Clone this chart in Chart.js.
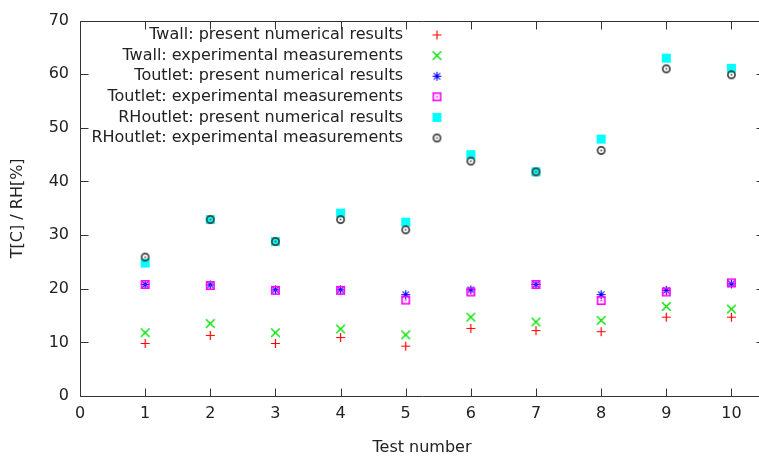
<!DOCTYPE html>
<html>
<head>
<meta charset="utf-8">
<title>Test results</title>
<script src="https://cdn.jsdelivr.net/npm/chart.js@4/dist/chart.umd.min.js"></script>
<style>
  html, body { margin: 0; padding: 0; overflow: hidden; background: #fff; }
  #marco { width: 759px; height: 462px; overflow: hidden; position: relative; }
  #grafico { position: absolute; left: 0; top: 0; }
</style>
</head>
<body>
<div id="marco">
  <canvas id="grafico" width="770" height="462"></canvas>
</div>
<script>
// Test numbers and measured / computed values
const tests = [1, 2, 3, 4, 5, 6, 7, 8, 9, 10];
const twallNum = [9.8, 11.3, 9.8, 10.9, 9.3, 12.6, 12.2, 12.0, 14.7, 14.7];
const twallExp = [11.8, 13.5, 11.8, 12.5, 11.4, 14.7, 13.8, 14.1, 16.7, 16.2];
const toutNum = [20.8, 20.7, 19.8, 19.8, 18.9, 19.8, 20.8, 18.9, 19.7, 20.9];
const toutExp = [20.8, 20.6, 19.7, 19.7, 17.9, 19.4, 20.8, 17.8, 19.4, 21.1];
const rhNum = [24.8, 32.9, 28.8, 34.1, 32.4, 45.0, 41.8, 47.9, 63.0, 61.1];
const rhExp = [25.9, 32.9, 28.8, 32.9, 31.0, 43.8, 41.8, 45.8, 61.0, 59.9];

const xTicks = [0, 1, 2, 3, 4, 5, 6, 7, 8, 9, 10];
const yTicks = [0, 10, 20, 30, 40, 50, 60, 70];

const FONT = "'DejaVu Sans', sans-serif";

// small canvases used as point markers
function marker(draw) {
    const c = document.createElement('canvas');
    c.width = 11;
    c.height = 11;
    draw(c.getContext('2d'));
    return c;
}

const plusMark = marker(function(ctx) {
    ctx.strokeStyle = '#ff0000';
    ctx.lineWidth = 1.2;
    ctx.beginPath();
    ctx.moveTo(1, 5.5); ctx.lineTo(10, 5.5);
    ctx.moveTo(5.5, 1); ctx.lineTo(5.5, 10);
    ctx.stroke();
});

const crossMark = marker(function(ctx) {
    ctx.strokeStyle = '#00e000';
    ctx.lineWidth = 1.4;
    ctx.beginPath();
    ctx.moveTo(1.2, 1.2); ctx.lineTo(9.8, 9.8);
    ctx.moveTo(9.8, 1.2); ctx.lineTo(1.2, 9.8);
    ctx.stroke();
});

const starMark = marker(function(ctx) {
    ctx.strokeStyle = '#0000ff';
    ctx.lineWidth = 1.1;
    ctx.beginPath();
    ctx.moveTo(1, 5.5); ctx.lineTo(10, 5.5);
    ctx.moveTo(5.5, 1); ctx.lineTo(5.5, 10);
    ctx.moveTo(2.3, 2.3); ctx.lineTo(8.7, 8.7);
    ctx.moveTo(8.7, 2.3); ctx.lineTo(2.3, 8.7);
    ctx.stroke();
});

const boxMark = marker(function(ctx) {
    ctx.strokeStyle = '#ff00ff';
    ctx.lineWidth = 1.6;
    ctx.strokeRect(1.8, 1.8, 7.4, 7.4);
    ctx.fillStyle = '#ff00ff';
    ctx.fillRect(4.7, 4.7, 1.6, 1.6);
});

const squareMark = marker(function(ctx) {
    ctx.fillStyle = '#00ffff';
    ctx.fillRect(1, 1, 9, 9);
});

const circleMark = marker(function(ctx) {
    ctx.strokeStyle = '#404040';
    ctx.lineWidth = 1.7;
    ctx.beginPath();
    ctx.arc(5.5, 5.5, 3.6, 0, Math.PI * 2);
    ctx.stroke();
    ctx.fillStyle = '#404040';
    ctx.fillRect(4.7, 4.7, 1.6, 1.6);
});

function puntos(valores) {
    return tests.map((t, i) => ({ x: t, y: valores[i] }));
}

const series = [
    { label: 'Twall: present numerical results', data: twallNum, mark: plusMark },
    { label: 'Twall: experimental measurements', data: twallExp, mark: crossMark },
    { label: 'Toutlet: present numerical results', data: toutNum, mark: starMark },
    { label: 'Toutlet: experimental measurements', data: toutExp, mark: boxMark },
    { label: 'RHoutlet: present numerical results', data: rhNum, mark: squareMark },
    { label: 'RHoutlet: experimental measurements', data: rhExp, mark: circleMark }
];

// frame lines with inward ticks on all four sides
const bordePlugin = {
    id: 'borde',
    afterDraw(chart) {
        const ctx = chart.ctx;
        const a = chart.chartArea;
        const xs = chart.scales.x;
        const ys = chart.scales.y;
        const len = 8;
        const l = Math.round(a.left) + 0.5;
        const r = Math.round(a.right) + 0.5;
        const t = Math.round(a.top) + 0.5;
        const b = Math.round(a.bottom) + 0.5;
        ctx.save();
        ctx.strokeStyle = '#333';
        ctx.lineWidth = 1;
        ctx.beginPath();
        ctx.moveTo(r, t); ctx.lineTo(l, t); ctx.lineTo(l, b); ctx.lineTo(r, b);
        ctx.moveTo(r, t); ctx.lineTo(r, b);
        xTicks.forEach(v => {
            const px = Math.round(xs.getPixelForValue(v)) + 0.5;
            ctx.moveTo(px, b); ctx.lineTo(px, b - len);
            ctx.moveTo(px, t); ctx.lineTo(px, t + len);
        });
        yTicks.forEach(v => {
            const py = Math.round(ys.getPixelForValue(v)) + 0.5;
            ctx.moveTo(l, py); ctx.lineTo(l + len, py);
            ctx.moveTo(r, py); ctx.lineTo(r - len, py);
        });
        ctx.stroke();
        ctx.restore();
    }
};

// key: text aligned right, marker on its right side
const leyendaPlugin = {
    id: 'leyenda',
    afterDraw(chart) {
        const ctx = chart.ctx;
        ctx.save();
        ctx.font = '16px ' + FONT;
        ctx.fillStyle = '#222';
        ctx.textAlign = 'right';
        ctx.textBaseline = 'middle';
        series.forEach((s, i) => {
            const y = 35 + i * 20.6;
            ctx.fillText(s.label, 403, y);
            ctx.drawImage(s.mark, 437 - 5.5, y - 5.5);
        });
        ctx.restore();
    }
};

new Chart(document.getElementById('grafico'), {
    type: 'scatter',
    data: {
        datasets: series.map((s, i) => ({
            label: s.label,
            data: puntos(s.data),
            pointStyle: s.mark,
            pointRadius: 5,
            order: series.length - i
        }))
    },
    options: {
        responsive: false,
        animation: false,
        events: [],
        // the frame runs a few pixels past the visible width
        layout: { padding: { top: 10, right: 6, left: 0, bottom: 0 } },
        plugins: {
            legend: { display: false },
            tooltip: { enabled: false }
        },
        scales: {
            x: {
                type: 'linear',
                min: 0,
                max: 10.5,
                afterBuildTicks: scale => {
                    scale.ticks = xTicks.map(v => ({ value: v }));
                },
                afterFit: scale => { scale.height = 66; },
                grid: { drawOnChartArea: false, drawTicks: false },
                border: { display: false },
                ticks: {
                    padding: 8,
                    color: '#222',
                    font: { family: FONT, size: 16 },
                    maxRotation: 0
                },
                title: {
                    display: true,
                    text: 'Test number',
                    color: '#222',
                    font: { family: FONT, size: 16 },
                    padding: { top: 0, bottom: 5 }
                }
            },
            y: {
                min: 0,
                max: 70,
                afterBuildTicks: scale => {
                    scale.ticks = yTicks.map(v => ({ value: v }));
                },
                afterFit: scale => { scale.width = 80; },
                grid: { drawOnChartArea: false, drawTicks: false },
                border: { display: false },
                ticks: {
                    padding: 11,
                    color: '#222',
                    font: { family: FONT, size: 16 }
                },
                title: {
                    display: true,
                    text: 'T[C] / RH[%]',
                    color: '#222',
                    font: { family: FONT, size: 16 },
                    padding: { top: 8, bottom: 0 }
                }
            }
        }
    },
    plugins: [bordePlugin, leyendaPlugin]
});
</script>
</body>
</html>
